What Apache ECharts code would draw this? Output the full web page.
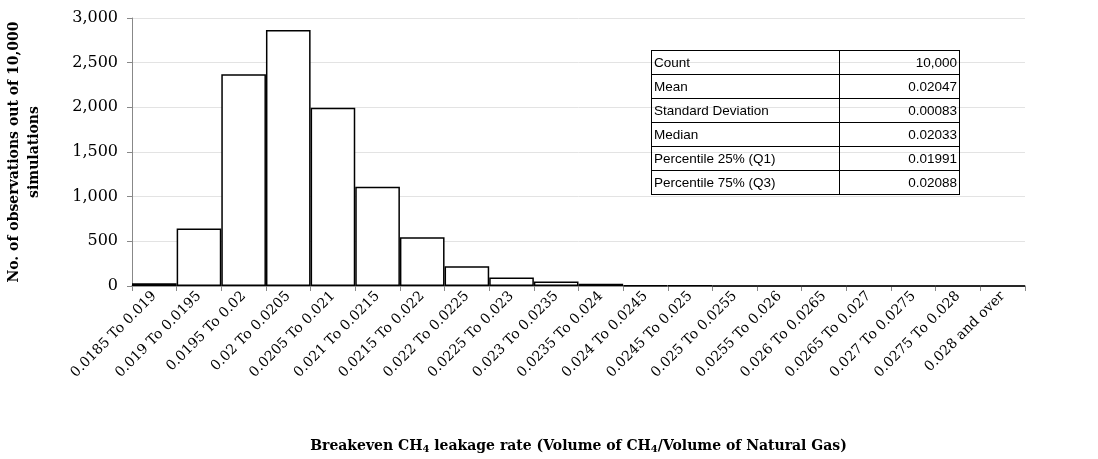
<!DOCTYPE html>
<html>
<head>
<meta charset="utf-8">
<script src="https://cdn.jsdelivr.net/npm/echarts@6/dist/echarts.min.js"></script>
<style>
body{margin:0;background:#fff;}
#chart{width:1098px;height:459px;}
#stats{position:absolute;left:651px;top:50px;border-collapse:collapse;font-family:"Liberation Sans",Arial;font-size:13.5px;}
#stats td{border:1px solid #000;padding:0 2px;height:23px;line-height:23px;}
#stats td.v{text-align:right;width:115px;}
#stats td.k{width:183px;}
</style>
</head>
<body>
<div id="chart"></div>
<table id="stats">
<tr><td class="k">Count</td><td class="v">10,000</td></tr>
<tr><td class="k">Mean</td><td class="v">0.02047</td></tr>
<tr><td class="k">Standard Deviation</td><td class="v">0.00083</td></tr>
<tr><td class="k">Median</td><td class="v">0.02033</td></tr>
<tr><td class="k">Percentile 25% (Q1)</td><td class="v">0.01991</td></tr>
<tr><td class="k">Percentile 75% (Q3)</td><td class="v">0.02088</td></tr>
</table>
<script>
var categories = ['0.0185 To 0.019','0.019 To 0.0195','0.0195 To 0.02','0.02 To 0.0205','0.0205 To 0.021',
  '0.021 To 0.0215','0.0215 To 0.022','0.022 To 0.0225','0.0225 To 0.023','0.023 To 0.0235','0.0235 To 0.024',
  '0.024 To 0.0245','0.0245 To 0.025','0.025 To 0.0255','0.0255 To 0.026','0.026 To 0.0265','0.0265 To 0.027',
  '0.027 To 0.0275','0.0275 To 0.028','0.028 and over'];
var counts = [30,645,2370,2865,1995,1110,545,220,95,50,26,8,3,1,0,0,0,0,0,0];

var serif = '"DejaVu Serif","Liberation Serif",serif';
var myChart = echarts.init(document.getElementById('chart'));
myChart.setOption({
    animation: false,
    grid: {left: 132, right: 73, top: 18, bottom: 173, outerBoundsMode: 'none'},
    xAxis: {
        type: 'category',
        data: categories,
        axisLine: {lineStyle: {color: '#888', width: 1.5}},
        axisTick: {show: true, lineStyle: {color: '#888'}},
        axisLabel: {rotate: 45, interval: 0, color: '#000', fontFamily: serif, fontSize: 14, margin: 8},
        name: '{b|Breakeven CH}{s|4}{b| leakage rate (Volume of CH}{s|4}{b|/Volume of Natural Gas)}',
        nameLocation: 'middle',
        nameGap: 152,
        nameTextStyle: {rich: {
            b: {fontFamily: serif, fontWeight: 'bold', fontSize: 14, color: '#000'},
            s: {fontFamily: serif, fontWeight: 'bold', fontSize: 10, color: '#000', verticalAlign: 'bottom', padding: [6, 0, 0, 0]}
        }}
    },
    yAxis: {
        type: 'value',
        min: 0, max: 3000, interval: 500,
        axisLine: {show: true, lineStyle: {color: '#888'}},
        axisTick: {show: true, lineStyle: {color: '#888'}},
        splitLine: {lineStyle: {color: '#e3e3e3'}},
        axisLabel: {color: '#000', fontFamily: serif, fontSize: 16, margin: 14,
            formatter: function (v) { return v.toLocaleString('en-US'); }},
        name: 'No. of observations out of 10,000\nsimulations',
        nameLocation: 'middle',
        nameGap: 88,
        nameTextStyle: {fontFamily: serif, fontWeight: 'bold', fontSize: 14, color: '#000', lineHeight: 20}
    },
    series: [{
        type: 'bar',
        data: counts,
        barCategoryGap: 0,
        itemStyle: {color: '#fff', borderColor: '#000', borderWidth: 1.5}
    }]
});
</script>
</body>
</html>
